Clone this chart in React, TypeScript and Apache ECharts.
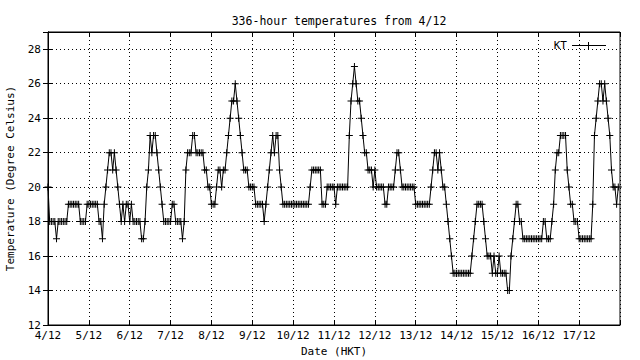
import React, { useEffect, useRef } from "react";
import * as echarts from "echarts";

// Hourly temperatures (°C) at KT, one array per day starting 4/12 00:00 HKT
const dec04 = [20, 18, 18, 18, 18, 17, 18, 18, 18, 18, 18, 18, 19, 19, 19, 19, 19, 19, 19, 18, 18, 18, 18, 19];
const dec05 = [19, 19, 19, 19, 19, 19, 18, 18, 17, 19, 20, 21, 22, 22, 21, 22, 21, 20, 19, 18, 19, 18, 19, 19];
const dec06 = [18, 19, 18, 18, 18, 18, 18, 17, 17, 18, 20, 21, 23, 22, 23, 23, 22, 21, 20, 19, 18, 18, 18, 18];
const dec07 = [18, 19, 19, 18, 18, 18, 18, 17, 18, 21, 22, 22, 22, 23, 23, 22, 22, 22, 22, 22, 21, 21, 20, 20];
const dec08 = [19, 19, 19, 20, 21, 21, 20, 21, 21, 22, 23, 24, 25, 25, 26, 25, 24, 23, 22, 21, 21, 21, 20, 20];
const dec09 = [20, 20, 19, 19, 19, 19, 19, 18, 19, 20, 21, 22, 23, 22, 23, 23, 21, 20, 19, 19, 19, 19, 19, 19];
const dec10 = [19, 19, 19, 19, 19, 19, 19, 19, 19, 19, 20, 21, 21, 21, 21, 21, 21, 19, 19, 19, 20, 20, 20, 20];
const dec11 = [20, 19, 20, 20, 20, 20, 20, 20, 20, 23, 25, 26, 27, 26, 25, 25, 24, 23, 22, 22, 21, 21, 21, 20];
const dec12 = [21, 20, 20, 20, 20, 20, 19, 19, 20, 20, 20, 20, 21, 22, 22, 21, 20, 20, 20, 20, 20, 20, 20, 20];
const dec13 = [19, 19, 19, 19, 19, 19, 19, 19, 19, 20, 21, 22, 22, 21, 22, 21, 20, 20, 19, 18, 17, 16, 15, 15];
const dec14 = [15, 15, 15, 15, 15, 15, 15, 15, 15, 16, 17, 18, 19, 19, 19, 19, 18, 17, 16, 16, 16, 15, 16, 15];
const dec15 = [15, 16, 15, 15, 15, 15, 14, 14, 16, 17, 18, 19, 19, 18, 18, 17, 17, 17, 17, 17, 17, 17, 17, 17];
const dec16 = [17, 17, 17, 18, 18, 17, 17, 17, 18, 19, 21, 22, 22, 23, 23, 23, 23, 21, 20, 19, 19, 18, 18, 18];
const dec17 = [17, 17, 17, 17, 17, 17, 17, 17, 19, 23, 24, 25, 26, 26, 25, 26, 25, 24, 23, 21, 20, 20, 19, 20];

const days = [dec04, dec05, dec06, dec07, dec08, dec09, dec10, dec11, dec12, dec13, dec14, dec15, dec16, dec17];
const firstDay = 4;
const month = 12;
const totalHours = 336;
const yMin = 12;
const yMax = 29;
const yStep = 2;

const MONO = "DejaVu Sans Mono";
const PLUS = "path://M0,3L7,3L7,4L0,4ZM3,0L4,0L4,7L3,7Z";
const LEGEND_ICON = "path://M0,3L34,3L34,4L0,4ZM16,0L17,0L17,7L16,7Z";

export default function App() {
  const ref = useRef<HTMLDivElement>(null);

  useEffect(() => {
    if (!ref.current) return;
    const chart = echarts.init(ref.current, undefined, { renderer: "svg" });

    const points: [number, number][] = [];
    days.forEach((arr, d) => arr.forEach((v, h) => points.push([d * 24 + h, v])));

    const dateLabel = (v: number) => (v < totalHours ? `${firstDay + v / 24}/${month}` : "");
    const textStyle = { fontFamily: MONO, fontSize: 11, color: "#000" };
    const splitLine = { show: true, lineStyle: { color: "#000", width: 1, type: [1, 3] as any } };
    const axisLine = { show: true, lineStyle: { color: "#000", width: 1 } };
    const tick = { show: true, inside: true, length: 5, lineStyle: { color: "#000" } };

    chart.setOption({
      animation: false,
      backgroundColor: "#fff",
      title: {
        text: "336-hour temperatures from 4/12",
        left: 334,
        textAlign: "center",
        top: 10,
        textStyle: { ...textStyle, fontSize: 11.5, fontWeight: "normal" },
      },
      legend: {
        right: 29,
        top: 35,
        align: "right",
        itemWidth: 34,
        itemHeight: 7,
        textStyle,
        data: [{ name: "KT", icon: LEGEND_ICON, itemStyle: { color: "#000", borderWidth: 0 } }],
      },
      grid: {
        left: 48,
        right: 20,
        top: 32,
        bottom: 35,
        show: true,
        borderColor: "#000",
        borderWidth: 1,
        containLabel: false,
        outerBoundsMode: "none",
      },
      xAxis: [
        {
          type: "value",
          min: 0,
          max: totalHours,
          interval: 24,
          name: "Date (HKT)",
          nameLocation: "middle",
          nameGap: 21,
          nameTextStyle: textStyle,
          axisLine,
          axisTick: tick,
          axisLabel: { ...textStyle, margin: 5, formatter: dateLabel },
          splitLine,
        },
        {
          type: "value",
          position: "top",
          min: 0,
          max: totalHours,
          interval: 24,
          axisLine,
          axisTick: tick,
          axisLabel: { show: false },
          splitLine: { show: false },
        },
      ],
      yAxis: [
        {
          type: "value",
          min: yMin,
          max: yMax,
          interval: yStep,
          name: "Temperature (Degree Celsius)",
          nameLocation: "middle",
          nameGap: 32,
          nameRotate: 90,
          nameTextStyle: textStyle,
          axisLine,
          axisTick: tick,
          axisLabel: { ...textStyle, margin: 7, formatter: (v: number) => (v === yMax ? "" : String(v)) },
          splitLine,
        },
        {
          type: "value",
          position: "right",
          min: yMin,
          max: yMax,
          interval: yStep,
          axisLine,
          axisTick: tick,
          axisLabel: { show: false },
          splitLine: { show: false },
        },
      ],
      series: [
        {
          name: "KT",
          type: "line",
          data: points,
          xAxisIndex: 0,
          yAxisIndex: 0,
          symbol: PLUS,
          symbolSize: 7,
          showAllSymbol: true,
          lineStyle: { color: "#000", width: 1 },
          itemStyle: { color: "#000", borderWidth: 0 },
        },
      ],
    });

    return () => chart.dispose();
  }, []);

  return <div ref={ref} style={{ position: "fixed", left: 0, top: 0, width: 640, height: 360, background: "#fff" }} />;
}
